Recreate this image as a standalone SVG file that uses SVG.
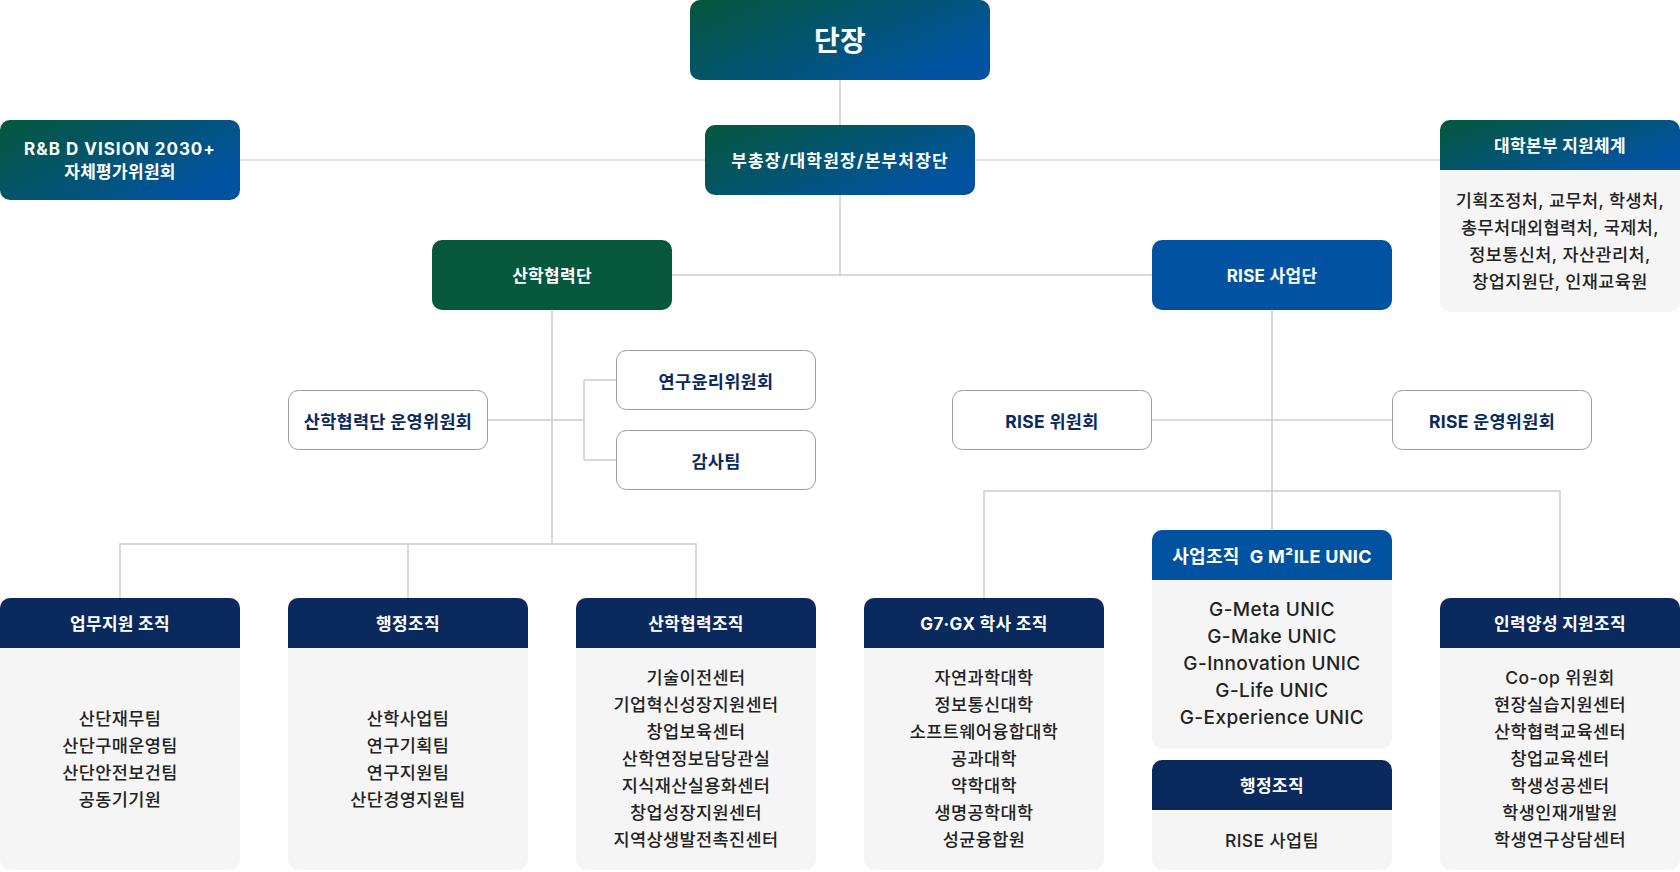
<svg xmlns="http://www.w3.org/2000/svg" width="1680" height="872" viewBox="0 0 1680 872">
<defs>
<linearGradient id="grad" x1="0" y1="0" x2="1" y2="0.6">
<stop offset="0" stop-color="#04573a"/>
<stop offset="1" stop-color="#0153a2"/>
</linearGradient>
<style>
text{font-family:Inter,"Noto Sans CJK KR","Noto Sans",sans-serif;text-anchor:middle;dominant-baseline:central}
.wt{fill:#fff;font-weight:700;font-size:17px;letter-spacing:0.3px}
.bt{fill:#222;font-weight:500;font-size:17.5px;letter-spacing:0.4px}
.ct{fill:#0a2a5e;font-weight:700;font-size:17.5px;letter-spacing:0.3px}
.ut{fill:#222;font-weight:500;font-size:19px;letter-spacing:0.4px}
.ln{fill:none;stroke:#cccccc;stroke-width:1.5}
.ln2{fill:none;stroke:#e3e3e3;stroke-width:2}
.card{fill:#f5f5f5}
.navy{fill:#0a2a5e}
.blue{fill:#0153a2}
.com{fill:#fff;stroke:#9a9a9a;stroke-width:1}
</style>
</defs>
<rect width="1680" height="872" fill="#fff"/>
<g id="connectors">
<path class="ln2" d="M240 160H1440"/>
<path class="ln" d="M840 80V275"/>
<path class="ln" d="M672 275H1152"/>
<path class="ln" d="M552 310V544"/>
<path class="ln" d="M487 420H584M584 380V460M584 380H616M584 460H616"/>
<path class="ln" d="M120 598V544H696V598M408 544V598"/>
<path class="ln" d="M1272 310V530"/>
<path class="ln" d="M1152 420H1392"/>
<path class="ln" d="M984 598V491H1560V598"/>
</g>
<g id="n-danjang">
<rect x="690" y="0" width="300" height="80" rx="10" fill="url(#grad)"/>
<text x="840" y="41" class="wt" style="font-size:28px">단장</text>
</g>
<g id="n-vice">
<rect x="705" y="125" width="270" height="70" rx="10" fill="url(#grad)"/>
<text x="840" y="161" class="wt" style="letter-spacing:1.2px">부총장/대학원장/본부처장단</text>
</g>
<g id="n-rnd">
<rect x="0" y="120" width="240" height="80" rx="10" fill="url(#grad)"/>
<text x="120" y="149" class="wt" style="letter-spacing:1px">R&amp;B D VISION 2030+</text>
<text x="120" y="172" class="wt">자체평가위원회</text>
</g>
<g id="n-hq">
<rect class="card" x="1440" y="120" width="240" height="192" rx="10"/>
<path d="M1440 170V130A10 10 0 0 1 1450 120H1670A10 10 0 0 1 1680 130V170Z" fill="url(#grad)"/>
<text x="1560" y="146" class="wt">대학본부 지원체계</text>
<text x="1560" y="200" class="bt">기획조정처, 교무처, 학생처,</text>
<text x="1560" y="227" class="bt">총무처대외협력처, 국제처,</text>
<text x="1560" y="254" class="bt">정보통신처, 자산관리처,</text>
<text x="1560" y="281" class="bt">창업지원단, 인재교육원</text>
</g>
<g id="n-sanhak">
<rect x="432" y="240" width="240" height="70" rx="10" fill="#05583b"/>
<text x="552" y="276" class="wt">산학협력단</text>
</g>
<g id="n-rise">
<rect x="1152" y="240" width="240" height="70" rx="10" fill="#0153a2"/>
<text x="1272" y="276" class="wt">RISE 사업단</text>
</g>
<g id="n-sanhak-com">
<rect class="com" x="288.5" y="390.5" width="199" height="59" rx="10"/>
<text x="388" y="421" class="ct">산학협력단 운영위원회</text>
</g>
<g id="n-ethics">
<rect class="com" x="616.5" y="350.5" width="199" height="59" rx="10"/>
<text x="716" y="381" class="ct">연구윤리위원회</text>
</g>
<g id="n-audit">
<rect class="com" x="616.5" y="430.5" width="199" height="59" rx="10"/>
<text x="716" y="461" class="ct">감사팀</text>
</g>
<g id="n-rise-com">
<rect class="com" x="952.5" y="390.5" width="199" height="59" rx="10"/>
<text x="1052" y="421" class="ct">RISE 위원회</text>
</g>
<g id="n-rise-op">
<rect class="com" x="1392.5" y="390.5" width="199" height="59" rx="10"/>
<text x="1492" y="421" class="ct">RISE 운영위원회</text>
</g>
<g id="n-work">
<rect class="card" x="0" y="598" width="240" height="272" rx="10"/>
<path class="navy" d="M0 648V608A10 10 0 0 1 10 598H230A10 10 0 0 1 240 608V648Z"/>
<text x="120" y="624" class="wt">업무지원 조직</text>
<text x="120" y="718" class="bt">산단재무팀</text>
<text x="120" y="745" class="bt">산단구매운영팀</text>
<text x="120" y="772" class="bt">산단안전보건팀</text>
<text x="120" y="799" class="bt">공동기기원</text>
</g>
<g id="n-admin">
<rect class="card" x="288" y="598" width="240" height="272" rx="10"/>
<path class="navy" d="M288 648V608A10 10 0 0 1 298 598H518A10 10 0 0 1 528 608V648Z"/>
<text x="408" y="624" class="wt">행정조직</text>
<text x="408" y="718" class="bt">산학사업팀</text>
<text x="408" y="745" class="bt">연구기획팀</text>
<text x="408" y="772" class="bt">연구지원팀</text>
<text x="408" y="799" class="bt">산단경영지원팀</text>
</g>
<g id="n-coop">
<rect class="card" x="576" y="598" width="240" height="272" rx="10"/>
<path class="navy" d="M576 648V608A10 10 0 0 1 586 598H806A10 10 0 0 1 816 608V648Z"/>
<text x="696" y="624" class="wt">산학협력조직</text>
<text x="696" y="677" class="bt">기술이전센터</text>
<text x="696" y="704" class="bt">기업혁신성장지원센터</text>
<text x="696" y="731" class="bt">창업보육센터</text>
<text x="696" y="758" class="bt">산학연정보담당관실</text>
<text x="696" y="785" class="bt">지식재산실용화센터</text>
<text x="696" y="812" class="bt">창업성장지원센터</text>
<text x="696" y="839" class="bt">지역상생발전촉진센터</text>
</g>
<g id="n-g7">
<rect class="card" x="864" y="598" width="240" height="272" rx="10"/>
<path class="navy" d="M864 648V608A10 10 0 0 1 874 598H1094A10 10 0 0 1 1104 608V648Z"/>
<text x="984" y="624" class="wt">G7·GX 학사 조직</text>
<text x="984" y="677" class="bt">자연과학대학</text>
<text x="984" y="704" class="bt">정보통신대학</text>
<text x="984" y="731" class="bt">소프트웨어융합대학</text>
<text x="984" y="758" class="bt">공과대학</text>
<text x="984" y="785" class="bt">약학대학</text>
<text x="984" y="812" class="bt">생명공학대학</text>
<text x="984" y="839" class="bt">성균융합원</text>
</g>
<g id="n-unic">
<rect class="card" x="1152" y="530" width="240" height="219" rx="10"/>
<path class="blue" d="M1152 580V540A10 10 0 0 1 1162 530H1382A10 10 0 0 1 1392 540V580Z"/>
<text x="1272" y="556" class="wt" style="font-size:18px">사업조직<tspan dx="10">G M²ILE UNIC</tspan></text>
<text x="1272" y="609" class="ut">G-Meta UNIC</text>
<text x="1272" y="636" class="ut">G-Make UNIC</text>
<text x="1272" y="663" class="ut">G-Innovation UNIC</text>
<text x="1272" y="690" class="ut">G-Life UNIC</text>
<text x="1272" y="717" class="ut">G-Experience UNIC</text>
</g>
<g id="n-rise-admin">
<rect class="card" x="1152" y="760" width="240" height="110" rx="10"/>
<path class="navy" d="M1152 810V770A10 10 0 0 1 1162 760H1382A10 10 0 0 1 1392 770V810Z"/>
<text x="1272" y="786" class="wt">행정조직</text>
<text x="1272" y="840" class="bt">RISE 사업팀</text>
</g>
<g id="n-talent">
<rect class="card" x="1440" y="598" width="240" height="272" rx="10"/>
<path class="navy" d="M1440 648V608A10 10 0 0 1 1450 598H1670A10 10 0 0 1 1680 608V648Z"/>
<text x="1560" y="624" class="wt">인력양성 지원조직</text>
<text x="1560" y="677" class="bt">Co-op 위원회</text>
<text x="1560" y="704" class="bt">현장실습지원센터</text>
<text x="1560" y="731" class="bt">산학협력교육센터</text>
<text x="1560" y="758" class="bt">창업교육센터</text>
<text x="1560" y="785" class="bt">학생성공센터</text>
<text x="1560" y="812" class="bt">학생인재개발원</text>
<text x="1560" y="839" class="bt">학생연구상담센터</text>
</g>
</svg>
